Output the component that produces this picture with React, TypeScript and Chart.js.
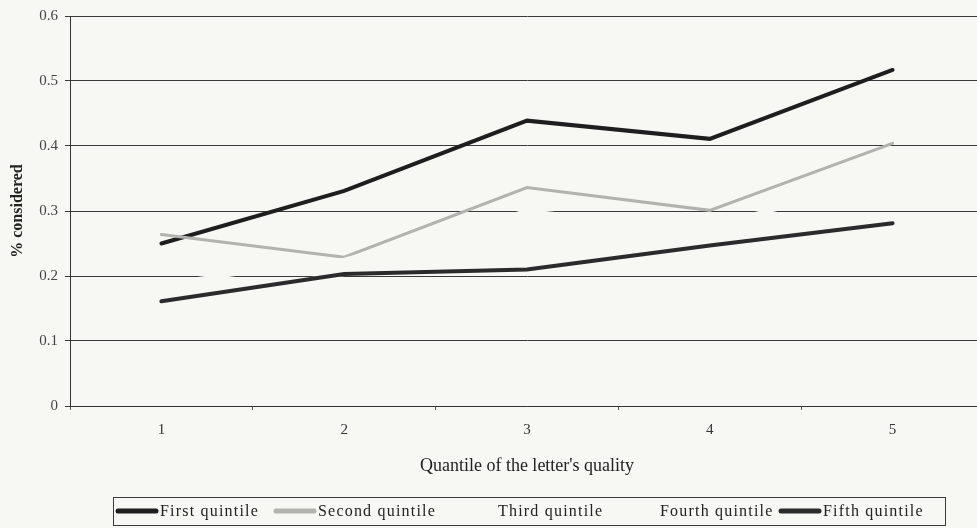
import React, { useEffect, useRef } from "react";
import { Chart, registerables } from "chart.js";

Chart.register(...registerables);

// ---- data ----
const categories = ["1", "2", "3", "4", "5"];
const seriesLabels = ["First quintile", "Second quintile", "Third quintile", "Fourth quintile", "Fifth quintile"];
const firstQuintile = [0.25, 0.331, 0.439, 0.411, 0.517];
const secondQuintile = [0.264, 0.229, 0.336, 0.301, 0.404];
const thirdQuintile = [0.188, 0.225, 0.3, 0.27, 0.26];
const fourthQuintile = [0.161, 0.203, 0.21, 0.28, 0.3425];
const fifthQuintile = [0.161, 0.203, 0.21, 0.247, 0.281];
const yTickValues = [0, 0.1, 0.2, 0.3, 0.4, 0.5, 0.6];
const xTitle = "Quantile of the letter's quality";
const yTitle = "% considered";

// ---- styles ----
const BG = "#f7f8f3";
const seriesColors = ["#1e1e1e", "#b2b2ae", BG, BG, "#2b2b2b"];
const seriesWidths = [4, 3, 4, 4, 4];
const FONT = "'Liberation Serif', 'Times New Roman', serif";

const legendTextX = [160, 318, 498, 660, 823];

const bgPlugin = {
  id: "bg",
  beforeDraw(chart: any) {
    const { ctx, width, height } = chart;
    ctx.save();
    ctx.fillStyle = BG;
    ctx.fillRect(0, 0, width, height);
    ctx.restore();
  },
};

const legendPlugin = {
  id: "boxLegend",
  afterDraw(chart: any) {
    const { ctx } = chart;
    const top = 497;
    const bottom = 525;
    const left = 113;
    const right = 945;
    const cy = (top + bottom) / 2;
    ctx.save();
    ctx.strokeStyle = "#3a3a3a";
    ctx.lineWidth = 1;
    ctx.strokeRect(left + 0.5, top + 0.5, right - left, bottom - top);
    ctx.font = "16px " + FONT;
    (ctx as any).letterSpacing = "1.2px";
    ctx.textBaseline = "middle";
    ctx.fillStyle = "#222";
    chart.data.datasets.forEach((ds: any, i: number) => {
      const tx = legendTextX[i];
      ctx.strokeStyle = ds.borderColor;
      ctx.lineWidth = 5;
      ctx.lineCap = "round";
      ctx.beginPath();
      ctx.moveTo(tx - 42, cy);
      ctx.lineTo(tx - 4, cy);
      ctx.stroke();
      ctx.fillText(ds.label, tx, cy + 1);
    });
    ctx.restore();
  },
};

export default function App() {
  const ref = useRef<HTMLCanvasElement | null>(null);

  useEffect(() => {
    document.body.style.margin = "0";
    document.body.style.overflow = "hidden";
    const seriesData = [firstQuintile, secondQuintile, thirdQuintile, fourthQuintile, fifthQuintile];
    const chart = new Chart(ref.current as HTMLCanvasElement, {
      type: "line",
      data: {
        labels: categories,
        datasets: seriesLabels.map((label, i) => ({
          label,
          data: seriesData[i],
          borderColor: seriesColors[i],
          backgroundColor: seriesColors[i],
          borderWidth: seriesWidths[i],
          pointRadius: 0,
          tension: 0,
          borderCapStyle: "round" as const,
          borderJoinStyle: "miter" as const,
          order: seriesLabels.length - i,
        })),
      },
      options: {
        responsive: false,
        animation: false,
        layout: { padding: { top: 15, right: 6, bottom: 48, left: 0 } },
        plugins: {
          legend: { display: false },
          tooltip: { enabled: false },
          title: { display: false },
        },
        scales: {
          x: {
            type: "category",
            offset: true,
            afterFit: (s: any) => {
              s.height = 74;
            },
            grid: {
              offset: true,
              drawOnChartArea: false,
              drawTicks: true,
              tickLength: 4,
              color: "#555",
            },
            border: { display: true, color: "#333", width: 1 },
            ticks: {
              color: "#333",
              padding: 11,
              font: { family: FONT, size: 15 },
            },
            title: {
              display: true,
              text: xTitle,
              color: "#222",
              font: { family: FONT, size: 18 },
              padding: { top: 0, bottom: 3 },
            },
          },
          y: {
            min: 0,
            max: 0.6,
            afterFit: (s: any) => {
              s.width = 70;
            },
            afterBuildTicks: (s: any) => {
              s.ticks = yTickValues.map((v) => ({ value: v }));
            },
            grid: {
              color: "#3a3a3a",
              lineWidth: 1,
              drawTicks: true,
              tickLength: 5,
            },
            border: { display: true, color: "#333", width: 1 },
            ticks: {
              color: "#444",
              padding: 7,
              font: { family: FONT, size: 15 },
              callback: (v: any) => (Number(v) === 0 ? "0" : Number(v).toFixed(1)),
            },
            title: {
              display: true,
              text: yTitle,
              color: "#222",
              font: { family: FONT, size: 16, weight: "bold" },
              padding: { top: 8, bottom: 0 },
            },
          },
        },
      },
      plugins: [bgPlugin, legendPlugin],
    });
    return () => chart.destroy();
  }, []);

  return (
    <div style={{ width: 977, height: 528, overflow: "hidden", background: BG }}>
      <canvas ref={ref} width={990} height={528} style={{ display: "block" }} />
    </div>
  );
}
